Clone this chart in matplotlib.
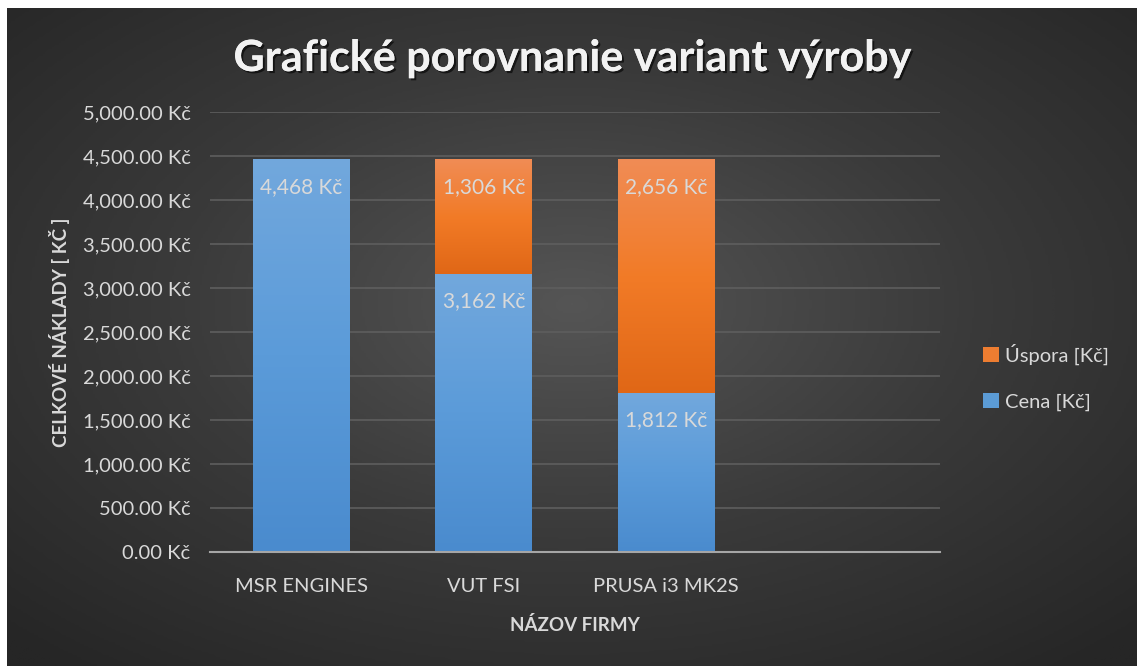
import numpy as np
import matplotlib.pyplot as plt
import matplotlib.patheffects as pe
from matplotlib.colors import LinearSegmentedColormap
from matplotlib.ticker import FuncFormatter

# data
firmy = ["MSR ENGINES", "VUT FSI", "PRUSA i3 MK2S", ""]
cena = [4468, 3162, 1812, 0]
uspora = [0, 1306, 2656, 0]

plt.rcParams['font.family'] = ['Lato', 'DejaVu Sans']
txt = '#d9d9d9'

W, H = 1137, 666
fig = plt.figure(figsize=(W / 100, H / 100), dpi=100, facecolor='white')

# dark radial background
bg = fig.add_axes([7 / W, 0, 1 - 7 / W, 1 - 8 / H])
yy, xx = np.mgrid[0:1:300j, 0:1:500j]
r = np.sqrt(((xx - 0.5) / 0.75) ** 2 + ((yy - 0.45) / 0.75) ** 2)
bg_cmap = LinearSegmentedColormap.from_list('bg', ['#555555', '#3a3a3a', '#262626'])
bg.imshow(r, cmap=bg_cmap, vmin=0, vmax=0.95, aspect='auto', extent=(0, 1, 0, 1))
bg.set_axis_off()

ax = fig.add_axes([210 / W, 1 - 552 / H, 730 / W, 440 / H])
ax.patch.set_alpha(0)

x = np.arange(len(firmy))
w = 0.53
b1 = ax.bar(x, cena, w, color='#5b9bd5', label='Cena [Kč]', zorder=2)
b2 = ax.bar(x, uspora, w, bottom=cena, color='#ed7d31', label='Úspora [Kč]', zorder=2)

blue_cm = LinearSegmentedColormap.from_list('b', ['#4a8bce', '#5b9bd9', '#72a8dd'])
orng_cm = LinearSegmentedColormap.from_list('o', ['#e06716', '#f27b27', '#f08c55'])
grad = np.linspace(0, 1, 256).reshape(-1, 1)
for bars, cm in ((b1, blue_cm), (b2, orng_cm)):
    for p in bars:
        if p.get_height() <= 0:
            continue
        x0, y0 = p.get_x(), p.get_y()
        im = ax.imshow(grad, cmap=cm, origin='lower', aspect='auto', zorder=2.5,
                       extent=(x0, x0 + p.get_width(), y0, y0 + p.get_height()))
        im.set_clip_path(p)

# value labels near top of each segment
for bars in (b1, b2):
    for p in bars:
        v = p.get_height()
        if v <= 0:
            continue
        ax.annotate(f"{v:,.0f} Kč", (p.get_x() + p.get_width() / 2, p.get_y() + v),
                    xytext=(0, -20), textcoords='offset points',
                    ha='center', va='center', color=txt, fontsize=15, zorder=4)

ax.set_xlim(-0.5, len(firmy) - 0.5)
ax.set_ylim(0, 5000)
ax.set_yticks(np.arange(0, 5001, 500))
ax.yaxis.set_major_formatter(FuncFormatter(lambda v, _: f"{v:,.2f} Kč"))
ax.set_xticks(x)
ax.set_xticklabels(firmy)
ax.tick_params(length=0, colors=txt, labelsize=14.5)
ax.tick_params(axis='y', pad=14)
ax.tick_params(axis='x', pad=19)
ax.grid(axis='y', color='#5e5e5e', lw=1.2, zorder=0)
ax.set_axisbelow(True)
for s in ('top', 'right', 'left'):
    ax.spines[s].set_visible(False)
ax.spines['bottom'].set_color('#a6a6a6')
ax.spines['bottom'].set_linewidth(1.5)
ax.spines['bottom'].set_zorder(5)

ax.set_xlabel('NÁZOV FIRMY', color=txt, fontsize=13.5, fontweight='bold', labelpad=15)
ax.set_ylabel('CELKOVÉ NÁKLADY [ KČ ]', color=txt, fontsize=13.5, fontweight='bold', labelpad=9)

fig.text(572 / W, 1 - 58 / H, 'Grafické porovnanie variant výroby', ha='center', va='center',
         color='#f2f2f2', fontsize=31, fontweight='bold',
         path_effects=[pe.withSimplePatchShadow(offset=(1.5, -1.5), shadow_rgbFace='black', alpha=0.6),
                       pe.Normal()])

leg = fig.legend(handles=[b2, b1], loc='center left', bbox_to_anchor=(965 / W, 1 - 377 / H),
                 frameon=False, fontsize=14.5, labelcolor=txt, handlelength=0.8, handleheight=0.8,
                 handletextpad=0.3, labelspacing=1.4)

fig.savefig('out.png', dpi=100, facecolor=fig.get_facecolor())
